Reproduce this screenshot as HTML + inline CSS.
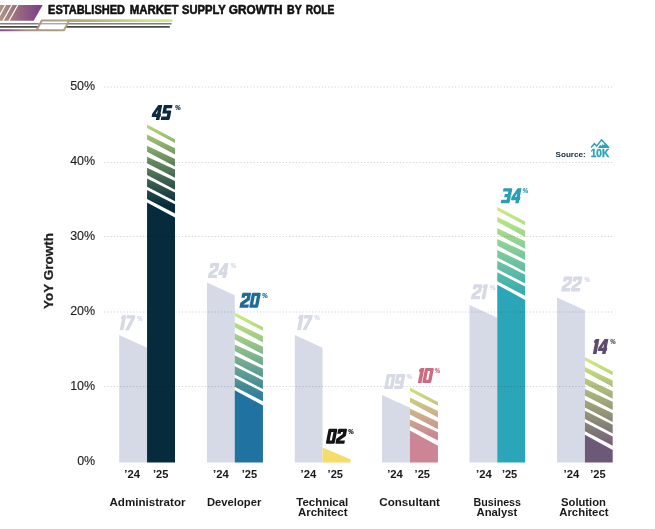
<!DOCTYPE html>
<html><head><meta charset="utf-8"><title>Established Market Supply Growth by Role</title>
<style>
html,body{margin:0;padding:0;background:#fff;}
body{width:655px;height:529px;overflow:hidden;font-family:"Liberation Sans",sans-serif;}
svg{display:block;will-change:transform;transform:translateZ(0);}
</style></head><body>
<svg width="655" height="529" viewBox="0 0 655 529" font-family="Liberation Sans, sans-serif">
<defs>
<linearGradient id="hg1" gradientUnits="userSpaceOnUse" x1="0" y1="0" x2="42" y2="0"><stop offset="0" stop-color="#ad9682"/><stop offset="0.45" stop-color="#97687f"/><stop offset="1" stop-color="#7b3c8a"/></linearGradient>
<linearGradient id="hg2" gradientUnits="userSpaceOnUse" x1="0" y1="0" x2="173" y2="0"><stop offset="0" stop-color="#8a4a8e"/><stop offset="0.05" stop-color="#93598c"/><stop offset="0.15" stop-color="#a88f88"/><stop offset="0.3" stop-color="#ad9c80"/><stop offset="0.55" stop-color="#b7b57b"/><stop offset="0.85" stop-color="#cde585"/><stop offset="1" stop-color="#d3eb89"/></linearGradient>
<linearGradient id="bg0" gradientUnits="userSpaceOnUse" x1="0" y1="124.6" x2="0" y2="205.4"><stop offset="0" stop-color="#b7da7c"/><stop offset="1" stop-color="#062b3d"/></linearGradient>
<linearGradient id="bg1" gradientUnits="userSpaceOnUse" x1="0" y1="312.4" x2="0" y2="405.4"><stop offset="0" stop-color="#cfee7b"/><stop offset="1" stop-color="#2072a0"/></linearGradient>
<linearGradient id="bg3" gradientUnits="userSpaceOnUse" x1="0" y1="387.4" x2="0" y2="436.4"><stop offset="0" stop-color="#cbe47c"/><stop offset="1" stop-color="#cc8594"/></linearGradient>
<linearGradient id="bg4" gradientUnits="userSpaceOnUse" x1="0" y1="206.9" x2="0" y2="299.9"><stop offset="0" stop-color="#cfee7b"/><stop offset="1" stop-color="#2aa6b8"/></linearGradient>
<linearGradient id="bg5" gradientUnits="userSpaceOnUse" x1="0" y1="356.9" x2="0" y2="449.9"><stop offset="0" stop-color="#cfee7b"/><stop offset="1" stop-color="#6c5977"/></linearGradient>
</defs>
<rect width="655" height="529" fill="#fff"/>
<g id="hdr">
<polygon points="0,5 42.7,5 33.7,20.8 0,20.8" fill="url(#hg1)"/>
<line x1="18.4" y1="4" x2="8.43" y2="21.8" stroke="#fff" stroke-width="1.15"/>
<line x1="12.4" y1="4" x2="2.43" y2="21.8" stroke="#fff" stroke-width="1.15"/>
<line x1="6.0" y1="4" x2="-3.97" y2="21.8" stroke="#fff" stroke-width="1.15"/>
<line x1="0" y1="23.7" x2="171.6" y2="23.7" stroke="#808080" stroke-width="1.5"/>
<line x1="0" y1="26.8" x2="169.8" y2="26.8" stroke="#484848" stroke-width="1.7"/>
<polygon points="41.8,20.4 69.2,20.4 63.9,30.3 36.6,30.3" fill="#fff"/>
<line x1="38" y1="23.7" x2="68" y2="23.7" stroke="#a8a8a8" stroke-width="1.4"/>
<path d="M0,30.3 H63.9 L69.2,20.4 M36.6,30.3 L41.8,20.4 H80" fill="none" stroke="url(#hg2)" stroke-width="2.0" stroke-linecap="butt" stroke-linejoin="miter"/>
<path d="M68.5,20.55 H171.4" fill="none" stroke="url(#hg2)" stroke-width="2.7" stroke-linecap="round"/>
</g>
<text x="48.1" y="13.75" font-size="12.2" font-weight="bold" fill="#111" stroke="#111" stroke-width="0.55" stroke-linejoin="round" textLength="76.90" lengthAdjust="spacingAndGlyphs">ESTABLISHED</text>
<text x="129.7" y="13.75" font-size="12.2" font-weight="bold" fill="#111" stroke="#111" stroke-width="0.55" stroke-linejoin="round" textLength="48.90" lengthAdjust="spacingAndGlyphs">MARKET</text>
<text x="182.0" y="13.75" font-size="12.2" font-weight="bold" fill="#111" stroke="#111" stroke-width="0.55" stroke-linejoin="round" textLength="43.75" lengthAdjust="spacingAndGlyphs">SUPPLY</text>
<text x="228.75" y="13.75" font-size="12.2" font-weight="bold" fill="#111" stroke="#111" stroke-width="0.55" stroke-linejoin="round" textLength="53.75" lengthAdjust="spacingAndGlyphs">GROWTH</text>
<text x="287.0" y="13.75" font-size="12.2" font-weight="bold" fill="#111" stroke="#111" stroke-width="0.55" stroke-linejoin="round" textLength="14.75" lengthAdjust="spacingAndGlyphs">BY</text>
<text x="305.75" y="13.75" font-size="12.2" font-weight="bold" fill="#111" stroke="#111" stroke-width="0.55" stroke-linejoin="round" textLength="28.50" lengthAdjust="spacingAndGlyphs">ROLE</text>
<text transform="translate(95.2,464.50) scale(0.955,1)" font-size="13.1" text-anchor="end" fill="#1c1c1c" stroke="#1c1c1c" stroke-width="0.12">0%</text>
<text transform="translate(95.2,389.50) scale(0.955,1)" font-size="13.1" text-anchor="end" fill="#1c1c1c" stroke="#1c1c1c" stroke-width="0.12">10%</text>
<text transform="translate(95.2,314.50) scale(0.955,1)" font-size="13.1" text-anchor="end" fill="#1c1c1c" stroke="#1c1c1c" stroke-width="0.12">20%</text>
<text transform="translate(95.2,239.50) scale(0.955,1)" font-size="13.1" text-anchor="end" fill="#1c1c1c" stroke="#1c1c1c" stroke-width="0.12">30%</text>
<text transform="translate(95.2,164.50) scale(0.955,1)" font-size="13.1" text-anchor="end" fill="#1c1c1c" stroke="#1c1c1c" stroke-width="0.12">40%</text>
<text transform="translate(95.2,89.50) scale(0.955,1)" font-size="13.1" text-anchor="end" fill="#1c1c1c" stroke="#1c1c1c" stroke-width="0.12">50%</text>
<text transform="translate(52.6,271) rotate(-90)" font-size="12.1" font-weight="bold" text-anchor="middle" fill="#222" stroke="#222" stroke-width="0.25" textLength="76" lengthAdjust="spacingAndGlyphs">YoY Growth</text>
<polygon points="119.20,334.90 147.05,347.80 147.05,462.4 119.20,462.4" fill="#d6dae7"/>
<polygon points="147.05,124.60 175.00,139.30 175.00,143.00 147.05,128.10" fill="url(#bg0)"/>
<polygon points="147.05,134.60 175.00,148.20 175.00,154.60 147.05,139.40" fill="url(#bg0)"/>
<polygon points="147.05,145.80 175.00,159.00 175.00,166.50 147.05,151.80" fill="url(#bg0)"/>
<polygon points="147.05,156.70 175.00,169.50 175.00,177.80 147.05,163.20" fill="url(#bg0)"/>
<polygon points="147.05,167.80 175.00,180.90 175.00,189.80 147.05,175.10" fill="url(#bg0)"/>
<polygon points="147.05,178.40 175.00,192.40 175.00,201.20 147.05,186.70" fill="url(#bg0)"/>
<polygon points="147.05,189.90 175.00,204.30 175.00,213.50 147.05,199.00" fill="url(#bg0)"/>
<polygon points="147.05,202.40 175.00,217.60 175.00,462.4 147.05,462.4" fill="#062b3d"/>
<polygon points="207.00,282.40 234.75,295.30 234.75,462.4 207.00,462.4" fill="#d6dae7"/>
<polygon points="234.75,312.40 262.95,327.10 262.95,330.80 234.75,315.90" fill="url(#bg1)"/>
<polygon points="234.75,322.40 262.95,336.00 262.95,342.40 234.75,327.20" fill="url(#bg1)"/>
<polygon points="234.75,333.60 262.95,346.80 262.95,354.30 234.75,339.60" fill="url(#bg1)"/>
<polygon points="234.75,344.50 262.95,357.30 262.95,365.60 234.75,351.00" fill="url(#bg1)"/>
<polygon points="234.75,355.60 262.95,368.70 262.95,377.60 234.75,362.90" fill="url(#bg1)"/>
<polygon points="234.75,366.20 262.95,380.20 262.95,389.00 234.75,374.50" fill="url(#bg1)"/>
<polygon points="234.75,377.70 262.95,392.10 262.95,401.30 234.75,386.80" fill="url(#bg1)"/>
<polygon points="234.75,390.20 262.95,405.40 262.95,462.4 234.75,462.4" fill="#2072a0"/>
<polygon points="294.80,334.90 322.55,347.80 322.55,462.4 294.80,462.4" fill="#d6dae7"/>
<polygon points="322.55,447.60 350.75,459.40 350.75,462.4 322.55,462.4" fill="#f6dc68"/>
<polygon points="382.00,394.90 409.95,407.80 409.95,462.4 382.00,462.4" fill="#d6dae7"/>
<polygon points="409.95,387.40 437.95,402.10 437.95,405.80 409.95,390.90" fill="url(#bg3)"/>
<polygon points="409.95,397.40 437.95,411.00 437.95,417.40 409.95,402.20" fill="url(#bg3)"/>
<polygon points="409.95,408.60 437.95,421.80 437.95,429.30 409.95,414.60" fill="url(#bg3)"/>
<polygon points="409.95,419.50 437.95,432.30 437.95,440.60 409.95,426.00" fill="url(#bg3)"/>
<polygon points="409.95,430.40 437.95,445.80 437.95,462.4 409.95,462.4" fill="#cc8594"/>
<polygon points="469.50,304.90 497.25,317.80 497.25,462.4 469.50,462.4" fill="#d6dae7"/>
<polygon points="497.25,206.90 525.15,221.60 525.15,225.30 497.25,210.40" fill="url(#bg4)"/>
<polygon points="497.25,216.90 525.15,230.50 525.15,236.90 497.25,221.70" fill="url(#bg4)"/>
<polygon points="497.25,228.10 525.15,241.30 525.15,248.80 497.25,234.10" fill="url(#bg4)"/>
<polygon points="497.25,239.00 525.15,251.80 525.15,260.10 497.25,245.50" fill="url(#bg4)"/>
<polygon points="497.25,250.10 525.15,263.20 525.15,272.10 497.25,257.40" fill="url(#bg4)"/>
<polygon points="497.25,260.70 525.15,274.70 525.15,283.50 497.25,269.00" fill="url(#bg4)"/>
<polygon points="497.25,272.20 525.15,286.60 525.15,295.80 497.25,281.30" fill="url(#bg4)"/>
<polygon points="497.25,284.70 525.15,299.90 525.15,462.4 497.25,462.4" fill="#2aa6b8"/>
<polygon points="557.00,297.40 584.95,310.30 584.95,462.4 557.00,462.4" fill="#d6dae7"/>
<polygon points="584.95,356.90 612.70,371.60 612.70,375.30 584.95,360.40" fill="url(#bg5)"/>
<polygon points="584.95,366.90 612.70,380.50 612.70,386.90 584.95,371.70" fill="url(#bg5)"/>
<polygon points="584.95,378.10 612.70,391.30 612.70,398.80 584.95,384.10" fill="url(#bg5)"/>
<polygon points="584.95,389.00 612.70,401.80 612.70,410.10 584.95,395.50" fill="url(#bg5)"/>
<polygon points="584.95,400.10 612.70,413.20 612.70,422.10 584.95,407.40" fill="url(#bg5)"/>
<polygon points="584.95,410.70 612.70,424.70 612.70,433.50 584.95,419.00" fill="url(#bg5)"/>
<polygon points="584.95,422.20 612.70,436.60 612.70,445.80 584.95,431.30" fill="url(#bg5)"/>
<polygon points="584.95,434.70 612.70,449.90 612.70,462.4 584.95,462.4" fill="#6c5977"/>
<line style="mix-blend-mode:multiply" x1="104.1" y1="386.50" x2="613.6" y2="386.50" stroke="#cfd0d4" stroke-width="1" stroke-dasharray="1.1 2.15"/>
<line style="mix-blend-mode:multiply" x1="104.1" y1="312.00" x2="613.6" y2="312.00" stroke="#cfd0d4" stroke-width="1" stroke-dasharray="1.1 2.15"/>
<line style="mix-blend-mode:multiply" x1="104.1" y1="236.50" x2="613.6" y2="236.50" stroke="#cfd0d4" stroke-width="1" stroke-dasharray="1.1 2.15"/>
<line style="mix-blend-mode:multiply" x1="104.1" y1="162.50" x2="613.6" y2="162.50" stroke="#cfd0d4" stroke-width="1" stroke-dasharray="1.1 2.15"/>
<line style="mix-blend-mode:multiply" x1="104.1" y1="87.00" x2="613.6" y2="87.00" stroke="#cfd0d4" stroke-width="1" stroke-dasharray="1.1 2.15"/>
<g transform="translate(153.92,104.90) skewX(-11.0)" fill="#0b2a3c">
<path transform="translate(0.00,0)" fill-rule="evenodd" d="M4.4,0H8.3V8.8H8.9V12H8.3V15H4.8V12H0V8.8ZM4.9,4.8L3.4,8.8H4.9Z"/>
<path transform="translate(9.70,0)" fill-rule="evenodd" d="M0.3,0H8.9V3.3H3.7V5.5H8.1L8.9,6.3V14.2L8.1,15H0V11.7H5.4V8.7H0.3Z"/>
</g>
<text x="175.00" y="110.20" font-size="7.0" font-style="italic" font-weight="bold" fill="#0b2a3c" stroke="#0b2a3c" stroke-width="0.2" textLength="5.7" lengthAdjust="spacingAndGlyphs">%</text>
<g transform="translate(122.62,315.20) skewX(-11.0)" fill="#d6dae7">
<path transform="translate(0.00,0)" fill-rule="evenodd" d="M0.3,0H3.7V15H0V3.8H-1.1V1.6Z"/>
<path transform="translate(4.40,0)" fill-rule="evenodd" d="M0,0H8.4V3.4L4.7,15H0.9L4.8,3.3H0Z"/>
</g>
<text x="136.90" y="320.50" font-size="7.0" font-style="italic" font-weight="bold" fill="#d6dae7" stroke="#d6dae7" stroke-width="0.2" textLength="5.7" lengthAdjust="spacingAndGlyphs">%</text>
<g transform="translate(210.67,263.00) skewX(-11.0)" fill="#d6dae7">
<path transform="translate(0.00,0)" fill-rule="evenodd" d="M0,0.8L0.8,0H8.1L8.9,0.8V7.2L3.6,11.6V11.7H8.9V15H0V10.1L5.4,5.6V3.3H3.4V5H0Z"/>
<path transform="translate(9.70,0)" fill-rule="evenodd" d="M4.4,0H8.3V8.8H8.9V12H8.3V15H4.8V12H0V8.8ZM4.9,4.8L3.4,8.8H4.9Z"/>
</g>
<text x="230.40" y="268.30" font-size="7.0" font-style="italic" font-weight="bold" fill="#d6dae7" stroke="#d6dae7" stroke-width="0.2" textLength="5.7" lengthAdjust="spacingAndGlyphs">%</text>
<g transform="translate(242.32,292.70) skewX(-11.0)" fill="#1f6c9a">
<path transform="translate(0.00,0)" fill-rule="evenodd" d="M0,0.8L0.8,0H8.1L8.9,0.8V7.2L3.6,11.6V11.7H8.9V15H0V10.1L5.4,5.6V3.3H3.4V5H0Z"/>
<path transform="translate(9.70,0)" fill-rule="evenodd" d="M0.8,0H8.1L8.9,0.8V14.2L8.1,15H0.8L0,14.2V0.8ZM3.4,3.2V11.8H5.5V3.2Z"/>
</g>
<text x="261.90" y="298.00" font-size="7.0" font-style="italic" font-weight="bold" fill="#1f6c9a" stroke="#1f6c9a" stroke-width="0.2" textLength="5.7" lengthAdjust="spacingAndGlyphs">%</text>
<g transform="translate(300.02,315.10) skewX(-11.0)" fill="#d6dae7">
<path transform="translate(0.00,0)" fill-rule="evenodd" d="M0.3,0H3.7V15H0V3.8H-1.1V1.6Z"/>
<path transform="translate(4.40,0)" fill-rule="evenodd" d="M0,0H8.4V3.4L4.7,15H0.9L4.8,3.3H0Z"/>
</g>
<text x="314.20" y="320.40" font-size="7.0" font-style="italic" font-weight="bold" fill="#d6dae7" stroke="#d6dae7" stroke-width="0.2" textLength="5.7" lengthAdjust="spacingAndGlyphs">%</text>
<g transform="translate(328.62,428.70) skewX(-11.0)" fill="#141414">
<path transform="translate(0.00,0)" fill-rule="evenodd" d="M0.8,0H8.1L8.9,0.8V14.2L8.1,15H0.8L0,14.2V0.8ZM3.4,3.2V11.8H5.5V3.2Z"/>
<path transform="translate(9.70,0)" fill-rule="evenodd" d="M0,0.8L0.8,0H8.1L8.9,0.8V7.2L3.6,11.6V11.7H8.9V15H0V10.1L5.4,5.6V3.3H3.4V5H0Z"/>
</g>
<text x="348.00" y="434.00" font-size="7.0" font-style="italic" font-weight="bold" fill="#141414" stroke="#141414" stroke-width="0.2" textLength="5.7" lengthAdjust="spacingAndGlyphs">%</text>
<g transform="translate(386.92,374.00) skewX(-11.0)" fill="#d6dae7">
<path transform="translate(0.00,0)" fill-rule="evenodd" d="M0.8,0H8.1L8.9,0.8V14.2L8.1,15H0.8L0,14.2V0.8ZM3.4,3.2V11.8H5.5V3.2Z"/>
<path transform="translate(9.70,0)" fill-rule="evenodd" d="M0.8,0H8.1L8.9,0.8V14.2L8.1,15H0.3V11.8H5.4V9.8H0.8L0,9V0.8ZM3.4,3.2V6.7H5.4V3.2Z"/>
</g>
<text x="406.60" y="379.30" font-size="7.0" font-style="italic" font-weight="bold" fill="#d6dae7" stroke="#d6dae7" stroke-width="0.2" textLength="5.7" lengthAdjust="spacingAndGlyphs">%</text>
<g transform="translate(420.72,367.90) skewX(-11.0)" fill="#ca6c83">
<path transform="translate(0.00,0)" fill-rule="evenodd" d="M0.3,0H3.7V15H0V3.8H-1.1V1.6Z"/>
<path transform="translate(4.40,0)" fill-rule="evenodd" d="M0.8,0H8.1L8.9,0.8V14.2L8.1,15H0.8L0,14.2V0.8ZM3.4,3.2V11.8H5.5V3.2Z"/>
</g>
<text x="434.40" y="373.20" font-size="7.0" font-style="italic" font-weight="bold" fill="#ca6c83" stroke="#ca6c83" stroke-width="0.2" textLength="5.7" lengthAdjust="spacingAndGlyphs">%</text>
<g transform="translate(473.72,284.20) skewX(-11.0)" fill="#d6dae7">
<path transform="translate(0.00,0)" fill-rule="evenodd" d="M0,0.8L0.8,0H8.1L8.9,0.8V7.2L3.6,11.6V11.7H8.9V15H0V10.1L5.4,5.6V3.3H3.4V5H0Z"/>
<path transform="translate(10.60,0)" fill-rule="evenodd" d="M0.3,0H3.7V15H0V3.8H-1.1V1.6Z"/>
</g>
<text x="489.80" y="289.50" font-size="7.0" font-style="italic" font-weight="bold" fill="#d6dae7" stroke="#d6dae7" stroke-width="0.2" textLength="5.7" lengthAdjust="spacingAndGlyphs">%</text>
<g transform="translate(503.57,188.15) skewX(-11.0)" fill="#2a9fb3">
<path transform="translate(0.00,0)" fill-rule="evenodd" d="M0,0H8.1L8.9,0.8V6.7L8.2,7.5L8.9,8.3V14.2L8.1,15H0V11.7H5.4V9.1H2.4V5.9H5.4V3.3H0Z"/>
<path transform="translate(9.70,0)" fill-rule="evenodd" d="M4.4,0H8.3V8.8H8.9V12H8.3V15H4.8V12H0V8.8ZM4.9,4.8L3.4,8.8H4.9Z"/>
</g>
<text x="522.60" y="193.45" font-size="7.0" font-style="italic" font-weight="bold" fill="#2a9fb3" stroke="#2a9fb3" stroke-width="0.2" textLength="5.7" lengthAdjust="spacingAndGlyphs">%</text>
<g transform="translate(563.92,276.40) skewX(-11.0)" fill="#d6dae7">
<path transform="translate(0.00,0)" fill-rule="evenodd" d="M0,0.8L0.8,0H8.1L8.9,0.8V7.2L3.6,11.6V11.7H8.9V15H0V10.1L5.4,5.6V3.3H3.4V5H0Z"/>
<path transform="translate(9.70,0)" fill-rule="evenodd" d="M0,0.8L0.8,0H8.1L8.9,0.8V7.2L3.6,11.6V11.7H8.9V15H0V10.1L5.4,5.6V3.3H3.4V5H0Z"/>
</g>
<text x="584.20" y="281.70" font-size="7.0" font-style="italic" font-weight="bold" fill="#d6dae7" stroke="#d6dae7" stroke-width="0.2" textLength="5.7" lengthAdjust="spacingAndGlyphs">%</text>
<g transform="translate(595.72,338.90) skewX(-11.0)" fill="#5d4a70">
<path transform="translate(0.00,0)" fill-rule="evenodd" d="M0.3,0H3.7V15H0V3.8H-1.1V1.6Z"/>
<path transform="translate(4.40,0)" fill-rule="evenodd" d="M4.4,0H8.3V8.8H8.9V12H8.3V15H4.8V12H0V8.8ZM4.9,4.8L3.4,8.8H4.9Z"/>
</g>
<text x="609.90" y="344.20" font-size="7.0" font-style="italic" font-weight="bold" fill="#5d4a70" stroke="#5d4a70" stroke-width="0.2" textLength="5.7" lengthAdjust="spacingAndGlyphs">%</text>
<text x="124.3" y="477.6" font-size="10.6" font-weight="bold" fill="#1a1a1a" textLength="15.7" lengthAdjust="spacingAndGlyphs">’24</text>
<text x="153.0" y="477.6" font-size="10.6" font-weight="bold" fill="#1a1a1a" textLength="15.4" lengthAdjust="spacingAndGlyphs">’25</text>
<text x="213.0" y="477.6" font-size="10.6" font-weight="bold" fill="#1a1a1a" textLength="15.7" lengthAdjust="spacingAndGlyphs">’24</text>
<text x="241.8" y="477.6" font-size="10.6" font-weight="bold" fill="#1a1a1a" textLength="15.4" lengthAdjust="spacingAndGlyphs">’25</text>
<text x="300.5" y="477.6" font-size="10.6" font-weight="bold" fill="#1a1a1a" textLength="15.7" lengthAdjust="spacingAndGlyphs">’24</text>
<text x="327.6" y="477.6" font-size="10.6" font-weight="bold" fill="#1a1a1a" textLength="15.4" lengthAdjust="spacingAndGlyphs">’25</text>
<text x="387.2" y="477.6" font-size="10.6" font-weight="bold" fill="#1a1a1a" textLength="15.7" lengthAdjust="spacingAndGlyphs">’24</text>
<text x="414.6" y="477.6" font-size="10.6" font-weight="bold" fill="#1a1a1a" textLength="15.4" lengthAdjust="spacingAndGlyphs">’25</text>
<text x="476.0" y="477.6" font-size="10.6" font-weight="bold" fill="#1a1a1a" textLength="15.7" lengthAdjust="spacingAndGlyphs">’24</text>
<text x="501.9" y="477.6" font-size="10.6" font-weight="bold" fill="#1a1a1a" textLength="15.4" lengthAdjust="spacingAndGlyphs">’25</text>
<text x="563.5" y="477.6" font-size="10.6" font-weight="bold" fill="#1a1a1a" textLength="15.7" lengthAdjust="spacingAndGlyphs">’24</text>
<text x="590.2" y="477.6" font-size="10.6" font-weight="bold" fill="#1a1a1a" textLength="15.4" lengthAdjust="spacingAndGlyphs">’25</text>
<text x="109.5" y="505.75" font-size="11.6" font-weight="bold" fill="#1a1a1a" textLength="76.00" lengthAdjust="spacingAndGlyphs">Administrator</text>
<text x="207.0" y="505.75" font-size="11.6" font-weight="bold" fill="#1a1a1a" textLength="54.25" lengthAdjust="spacingAndGlyphs">Developer</text>
<text x="296.25" y="505.75" font-size="11.6" font-weight="bold" fill="#1a1a1a" textLength="52.00" lengthAdjust="spacingAndGlyphs">Technical</text>
<text x="298.0" y="515.75" font-size="11.6" font-weight="bold" fill="#1a1a1a" textLength="49.50" lengthAdjust="spacingAndGlyphs">Architect</text>
<text x="379.25" y="505.75" font-size="11.6" font-weight="bold" fill="#1a1a1a" textLength="60.75" lengthAdjust="spacingAndGlyphs">Consultant</text>
<text x="473.5" y="505.75" font-size="11.6" font-weight="bold" fill="#1a1a1a" textLength="47.50" lengthAdjust="spacingAndGlyphs">Business</text>
<text x="476.5" y="515.75" font-size="11.6" font-weight="bold" fill="#1a1a1a" textLength="40.75" lengthAdjust="spacingAndGlyphs">Analyst</text>
<text x="561.0" y="505.75" font-size="11.6" font-weight="bold" fill="#1a1a1a" textLength="45.00" lengthAdjust="spacingAndGlyphs">Solution</text>
<text x="559.25" y="515.75" font-size="11.6" font-weight="bold" fill="#1a1a1a" textLength="49.25" lengthAdjust="spacingAndGlyphs">Architect</text>
<text x="555.5" y="156.7" font-size="8" font-weight="bold" fill="#13293b" textLength="30.3" lengthAdjust="spacingAndGlyphs">Source:</text>
<g fill="#2aa3b7">
<text x="590.8" y="156.7" font-size="10.4" font-weight="bold" stroke="#2aa3b7" stroke-width="0.35" textLength="18.4" lengthAdjust="spacingAndGlyphs">10K</text>
<path d="M591.1,147.5 L594.4,143.7 L596.6,146.1 L601.5,139.9 L608.9,147.5" fill="none" stroke="#2aa3b7" stroke-width="1.45" stroke-linejoin="miter" stroke-linecap="butt"/>
<path d="M597.9,148 L600.3,144.8 L601.5,145.9 L602.8,144.1 L603.9,145.2 L605.2,143.4 L609.4,148 Z"/>
</g>
</svg>
</body></html>
